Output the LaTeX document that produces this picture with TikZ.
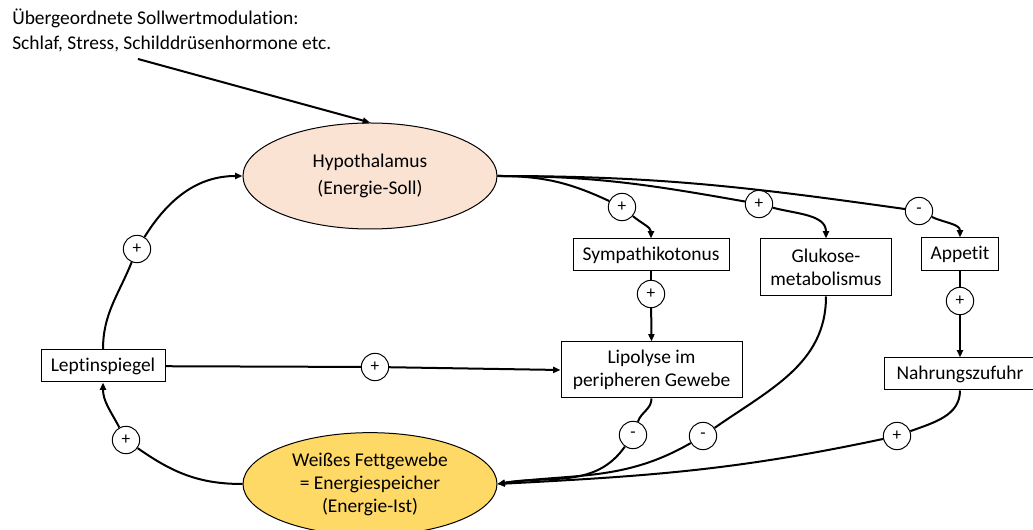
\documentclass[tikz,border=0pt]{standalone}
\usepackage{fontspec}
\setmainfont{Carlito}[Ligatures={NoCommon}]
\usetikzlibrary{shapes.geometric}
\usetikzlibrary{arrows.meta}
\definecolor{hypofill}{HTML}{FBE3D4}
\definecolor{fettfill}{HTML}{FFD966}

\begin{document}
\begin{tikzpicture}[x=0.75pt,y=0.75pt]
      \tikzset{mybox/.style={draw=black,line width=0.75pt,fill=white,inner sep=0pt,align=center,font=\fontsize{14.6}{17.25}\selectfont},
        myellipse/.style={ellipse,draw=black,line width=0.75pt,inner sep=0pt,align=center,font=\fontsize{14.6}{17.25}\selectfont},
        mysign/.style={circle,draw=black,line width=0.75pt,fill=white,inner sep=0pt,minimum size=\signsize,font=\fontsize{13}{13}\selectfont},
        myline/.style={line width=1.5pt},
        myarrow/.style={myline,-{Triangle[length=5.5pt,width=4.5pt]}}}
      \def\signsize{20.5pt}
      \useasboundingbox (0,0) rectangle (1033,-530);

\node[anchor=west,align=left,inner sep=0pt,font=\fontsize{14.6}{18.75}\selectfont] (modtext) at (12,-30.5) {Übergeordnete Sollwertmodulation:\\Schlaf, Stress, Schilddrüsenhormone etc.};
\coordinate (modstart) at (138,-59);

\node[myellipse,fill=hypofill,minimum width=190.5pt,minimum height=79.5pt,font=\fontsize{14.6}{20}\selectfont] (hypo) at (370,-176) {Hypothalamus\\(Energie-Soll)};
\node[myellipse,fill=fettfill,minimum width=190.5pt,minimum height=77pt] (fett) at (370,-484) {Weißes Fettgewebe\\= Energiespeicher\\(Energie-Ist)};

\node[mybox,minimum width=93pt,minimum height=24pt] (lept) at (103,-366) {Leptinspiegel};
\node[mybox,minimum width=117pt,minimum height=24pt] (symp) at (651,-255) {Sympathikotonus};
\node[mybox,minimum width=98.25pt,minimum height=42.75pt] (glu) at (826,-267.5) {Glukose-\\metabolismus};
\node[mybox,minimum width=57.75pt,minimum height=24.75pt] (app) at (960,-254.5) {Appetit};
\node[mybox,minimum width=135.75pt,minimum height=42pt] (lip) at (651.5,-370) {Lipolyse im\\peripheren Gewebe};
\node[mybox,minimum width=114pt,minimum height=24pt] (nahr) at (960,-374) {Nahrungszufuhr};

\node[mysign] (s1) at (622,-207) {+};
\node[mysign] (s2) at (759,-204) {+};
\node[mysign] (s3) at (919,-211) {-};
\node[mysign] (s4) at (960,-301) {+};
\node[mysign] (s5) at (651,-294) {+};
\node[mysign] (s6) at (375,-367) {+};
\node[mysign] (s7) at (137,-249) {+};
\node[mysign] (s8) at (126,-440) {+};
\node[mysign] (s9) at (633,-435) {-};
\node[mysign] (s10) at (703,-436) {-};
\node[mysign] (s11) at (897,-436) {+};

% Sollwert von oben
\draw[myarrow] (modstart) -- (hypo.north);

% Hypothalamus nach rechts
\draw[myline] (hypo.east) to[out=0,in=155] (s1);
\draw[myarrow] (s1) to[out=-40,in=90] (symp.north);
\draw[myline] (hypo.east) to[out=0,in=170] (s2);
\draw[myarrow] (s2) to[out=-15,in=90] (glu.north);
\draw[myline] (hypo.east) to[out=0,in=172] (s3);
\draw[myarrow] (s3) to[out=-25,in=90] (app.north);

\draw[myline] (symp) -- (s5);
\draw[myarrow] (s5) -- (lip.north);
\draw[myline] (app) -- (s4);
\draw[myarrow] (s4) -- (nahr.north);
\draw[myline] (lept) -- (s6);
\draw[myarrow] (s6) -- (lip.west);

% linke Schleife
\draw[myline] (lept.north) to[out=90,in=-112] (s7);
\draw[myarrow] (s7) to[out=58,in=180] (hypo.west);
\draw[myline] (fett.west) to[out=180,in=-35] (s8);
\draw[myarrow] (s8) to[out=118,in=-90] (lept.south);

% zurueck zum Fettgewebe
\draw[myline] (lip.south) to[out=-90,in=70] (s9);
\draw[myarrow] (s9) to[out=-125,in=10] (fett.east);
\draw[myline] (glu.south) to[out=-90,in=35] (s10);
\draw[myarrow] (s10) to[out=-150,in=8] (fett.east);
\draw[myline] (nahr.south) to[out=-90,in=20] (s11);
\draw[myarrow] (s11) to[out=-168,in=3] (fett.east);

    \end{tikzpicture}
\end{document}
